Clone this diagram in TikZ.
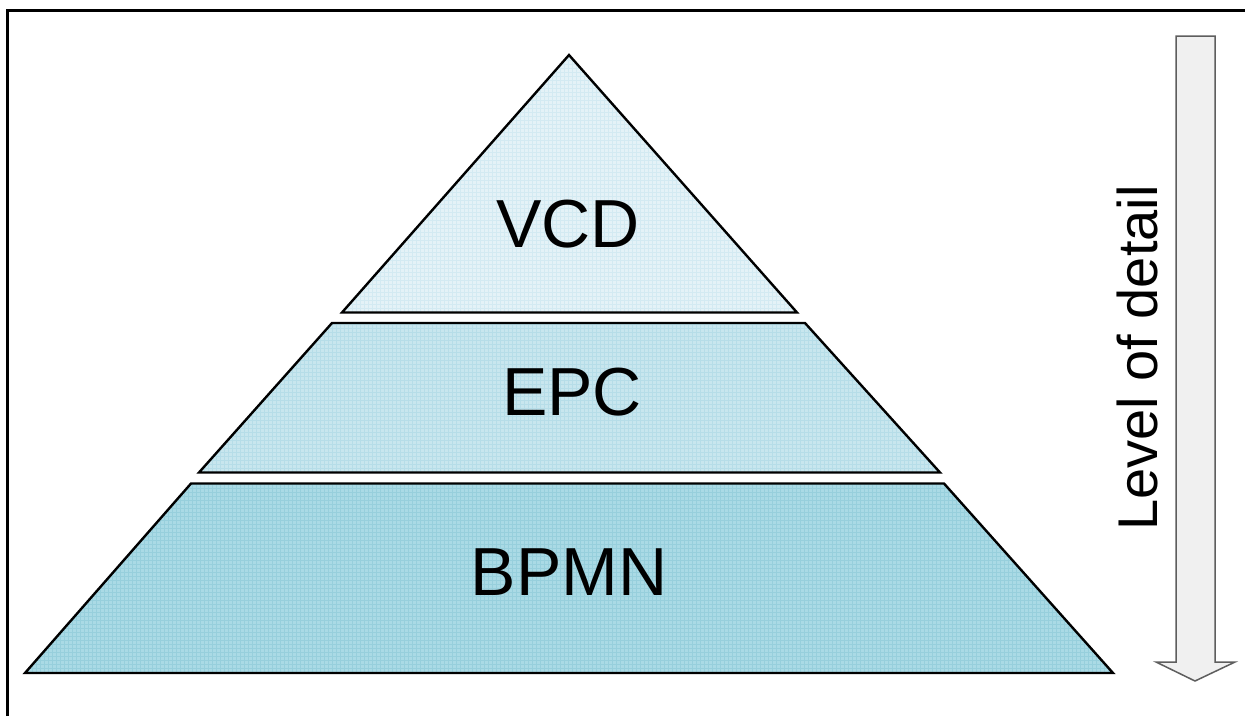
\documentclass[tikz,border=0pt]{standalone}
\usepackage{fontspec}
\setmainfont{Liberation Sans}
\definecolor{tierA}{HTML}{E4F2F7}
\definecolor{tierAgrid}{HTML}{D3EAF2}
\definecolor{tierB}{HTML}{C8E6EE}
\definecolor{tierBgrid}{HTML}{B6DDE8}
\definecolor{tierC}{HTML}{AADAE5}
\definecolor{tierCgrid}{HTML}{97CFDC}
\definecolor{arrowfill}{HTML}{F0F0F0}
\definecolor{arrowline}{HTML}{5E5E5E}
\begin{document}
\begin{tikzpicture}[x=1pt,y=-1pt,
  tier/.style={draw=black,line width=2.4pt,line join=miter},
  tierlabel/.style={anchor=base,font=\fontsize{68}{80}\selectfont},
  sidelabel/.style={anchor=base,rotate=90,font=\fontsize{56}{66}\selectfont}]
\useasboundingbox (0,0) rectangle (1245,716);
\fill[white] (0,0) rectangle (1245,716);

% frame
\draw[line width=2.2pt] (7.5,716) -- (7.5,10.5) -- (1245,10.5);

% pyramid tiers: fill, fine mesh, outline
\fill[tierA] (569,55) -- (797,312.5) -- (342,312.5) -- cycle;
\begin{scope}
  \clip (569,55) -- (797,312.5) -- (342,312.5) -- cycle;
  \draw[tierAgrid,line width=0.6pt,step=4pt] (340,50) grid (800,316);
\end{scope}
\draw[tier] (569,55) -- (797,312.5) -- (342,312.5) -- cycle;

\fill[tierB] (332,323) -- (805,323) -- (940,472.5) -- (199,472.5) -- cycle;
\begin{scope}
  \clip (332,323) -- (805,323) -- (940,472.5) -- (199,472.5) -- cycle;
  \draw[tierBgrid,line width=0.6pt,step=4pt] (196,320) grid (944,476);
\end{scope}
\draw[tier] (332,323) -- (805,323) -- (940,472.5) -- (199,472.5) -- cycle;

\fill[tierC] (191,483.5) -- (944,483.5) -- (1113,673) -- (25,673) -- cycle;
\begin{scope}
  \clip (191,483.5) -- (944,483.5) -- (1113,673) -- (25,673) -- cycle;
  \draw[tierCgrid,line width=0.6pt,step=4pt] (20,480) grid (1116,676);
\end{scope}
\draw[tier] (191,483.5) -- (944,483.5) -- (1113,673) -- (25,673) -- cycle;

% tier labels
\node[tierlabel] (vcd) at (568,247) {VCD};
\node[tierlabel] (epc) at (572,415) {EPC};
\node[tierlabel] (bpmn) at (569,595) {BPMN};

% detail arrow
\draw[arrowline,fill=arrowfill,line width=1.5pt,line join=miter]
  (1176,36) -- (1215,36) -- (1215,662) -- (1235,662) -- (1195,681)
  -- (1156,662) -- (1176,662) -- cycle;
\node[sidelabel] (detail) at (1157,358) {Level of detail};
\end{tikzpicture}
\end{document}
